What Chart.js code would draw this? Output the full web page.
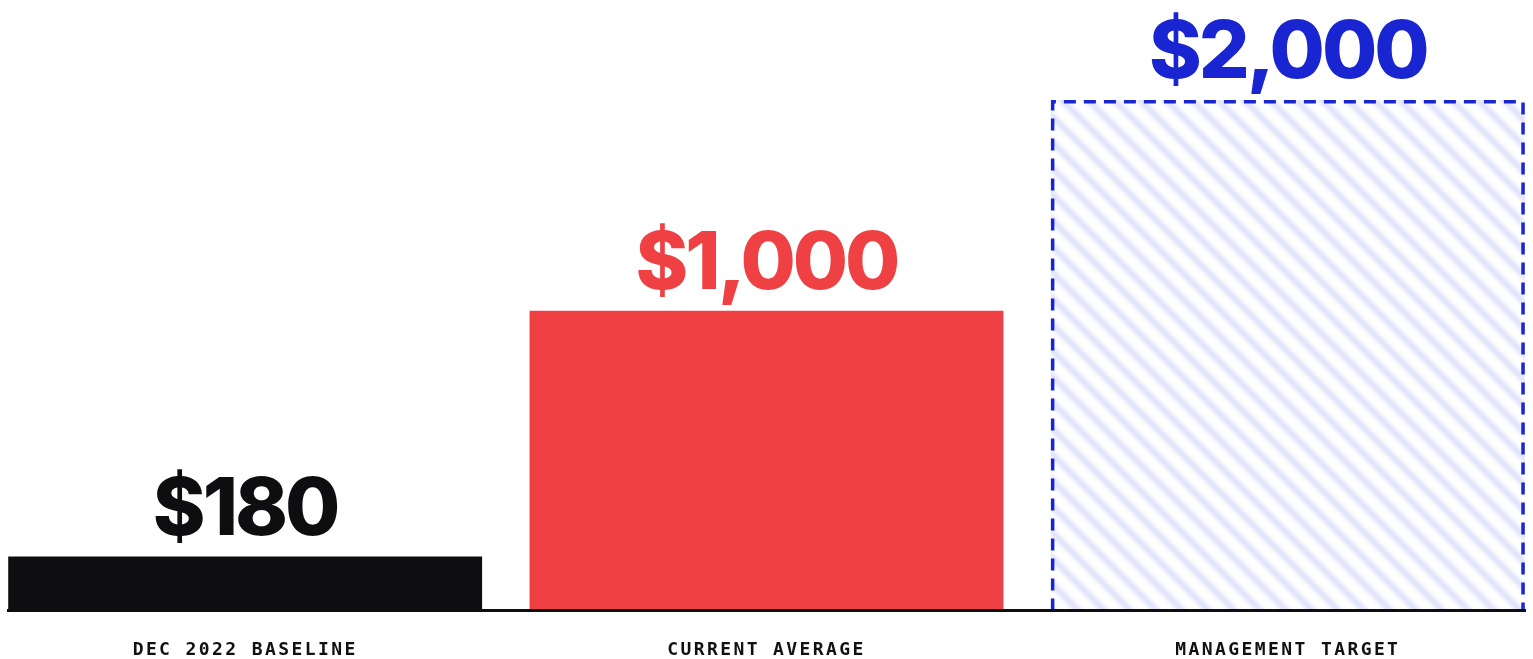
<!DOCTYPE html>
<html>
<head>
<meta charset="utf-8">
<script src="https://cdn.jsdelivr.net/npm/chart.js@4.4.1/dist/chart.umd.min.js"></script>
<style>
  html, body { margin: 0; padding: 0; background: #ffffff; }
  #wrap { width: 1533px; height: 659px; position: relative; }
</style>
</head>
<body>
<div id="wrap"><canvas id="chart"></canvas></div>
<script>
// Categories and their values
const categories = ['DEC 2022 BASELINE', 'CURRENT AVERAGE', 'MANAGEMENT TARGET'];
const values = [180, 1000, 2000];
const valueLabels = ['$180', '$1,000', '$2,000'];

const INK = '#0e0e10';
const RED = '#ef4143';
const BLUE = '#1a25d2';
const TARGET_INDEX = 2;

// Soft diagonal hatch used to fill the target bar
function makeHatch() {
  const d = 26;
  const big = document.createElement('canvas');
  big.width = d * 3; big.height = d * 3;
  const b = big.getContext('2d');
  b.filter = 'blur(2px)';
  b.strokeStyle = 'rgba(40, 55, 215, 0.17)';
  b.lineWidth = 5.5;
  for (let k = -4; k <= 4; k++) {
    b.beginPath();
    b.moveTo(k * d - d, -d);
    b.lineTo(k * d + 4 * d, 4 * d);
    b.stroke();
  }
  const tile = document.createElement('canvas');
  tile.width = d; tile.height = d;
  tile.getContext('2d').drawImage(big, d, d, d, d, 0, 0, d, d);
  return tile.getContext('2d').createPattern(tile, 'repeat');
}
const hatch = makeHatch();

const points = values.map((v, i) => ({ x: i, y: v }));

// Dashed outline around the visible part of the target bar
const targetOutline = {
  id: 'targetOutline',
  afterDatasetsDraw(chart) {
    const el = chart.getDatasetMeta(0).data[TARGET_INDEX];
    if (!el) return;
    const area = chart.chartArea;
    const p = el.getProps(['x', 'y', 'base', 'width'], true);
    const lw = 3.5;
    const left = p.x - p.width / 2 + lw / 2;
    const right = p.x + p.width / 2 - lw / 2;
    const top = Math.max(p.y, area.top) + lw / 2;
    const bottom = p.base;
    const ctx = chart.ctx;
    ctx.save();
    ctx.strokeStyle = BLUE;
    ctx.lineWidth = lw;
    ctx.setLineDash([12, 8]);
    ctx.beginPath();
    ctx.moveTo(left, bottom);
    ctx.lineTo(left, top);
    ctx.lineTo(right, top);
    ctx.lineTo(right, bottom);
    ctx.stroke();
    ctx.restore();
  }
};

// Large value labels above each bar
const valueText = {
  id: 'valueText',
  afterDraw(chart) {
    const meta = chart.getDatasetMeta(0);
    const area = chart.chartArea;
    const colors = [INK, RED, BLUE];
    const ctx = chart.ctx;
    ctx.save();
    ctx.font = '800 80px Inter';
    ctx.letterSpacing = '-3px';
    ctx.textAlign = 'center';
    ctx.textBaseline = 'alphabetic';
    meta.data.forEach((el, i) => {
      const top = Math.max(el.y, area.top);
      ctx.fillStyle = colors[i];
      ctx.fillText(valueLabels[i], el.x, top - 22);
    });
    ctx.restore();
  }
};

// Letter spacing for the category tick labels
const tickSpacing = {
  id: 'tickSpacing',
  beforeDraw(chart) { chart.ctx.letterSpacing = '2.4px'; },
  afterDatasetsDraw(chart) { chart.ctx.letterSpacing = '0px'; }
};

new Chart(document.getElementById('chart'), {
  type: 'bar',
  data: {
    datasets: [{
      data: points,
      backgroundColor: [INK, RED, hatch],
      borderWidth: 0,
      barPercentage: 0.909,
      categoryPercentage: 1
    }]
  },
  options: {
    responsive: true,
    maintainAspectRatio: false,
    animation: false,
    layout: { padding: { top: 100, left: 8, right: 8, bottom: 0 } },
    plugins: { legend: { display: false }, tooltip: { enabled: false } },
    scales: {
      x: {
        type: 'linear',
        offset: false,
        min: -0.4549,
        max: 2.4549,
        grid: { display: false, drawTicks: false },
        border: { display: true, color: INK, width: 3, z: 1 },
        afterFit(scale) { scale.height = 48.5; },
        ticks: {
          stepSize: 1,
          includeBounds: false,
          autoSkip: false,
          maxRotation: 0,
          padding: 29,
          color: '#111111',
          font: { family: 'DejaVu Sans Mono', size: 18, weight: 'bold' },
          callback: (v) => (Number.isInteger(v) && categories[v] !== undefined) ? categories[v] : ''
        }
      },
      y: {
        display: false,
        min: 0,
        max: 1703
      }
    }
  },
  plugins: [tickSpacing, targetOutline, valueText]
});
</script>
</body>
</html>
